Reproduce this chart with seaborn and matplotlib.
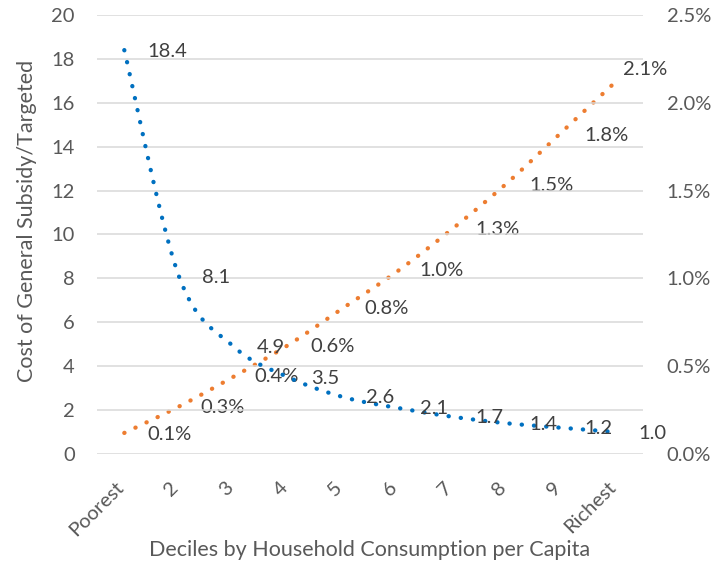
import numpy as np
import matplotlib
matplotlib.use("Agg")
import matplotlib.pyplot as plt
import matplotlib.transforms as mtransforms
from matplotlib.ticker import FuncFormatter, MultipleLocator
import seaborn as sns

# Deciles (x categories)
deciles = ["Poorest", "2", "3", "4", "5", "6", "7", "8", "9", "Richest"]
# Cost of general subsidy relative to targeted transfer (left axis)
cost_ratio = [18.4, 8.1, 4.9, 3.5, 2.6, 2.1, 1.7, 1.4, 1.2, 1.0]
# Share, in percent (right axis)
share_pct = [0.12, 0.27, 0.44, 0.62, 0.83, 1.04, 1.28, 1.54, 1.83, 2.12]

BLUE = "#0070C0"
ORANGE = "#ED7D31"
GRID = "#D9D9D9"
AXIS_TXT = "#595959"
LABEL_TXT = "#404040"
FONT = "Lato"
FS = 14.5

sns.set_theme(style="white")
plt.rcParams["font.family"] = [FONT, "DejaVu Sans"]


def smooth_curve(xv, yv, steps=40):
    """Smoothed line through the points using cubic Bezier segments
    (control points at 1/6 of the neighbour chord, as spreadsheet charts do)."""
    x = np.asarray(xv, float)
    y = np.asarray(yv, float)
    n = len(x)
    px, py = [], []
    t = np.linspace(0, 1, steps, endpoint=False)
    for i in range(n - 1):
        i0, i3 = max(i - 1, 0), min(i + 2, n - 1)
        p0 = np.array([x[i], y[i]])
        p3 = np.array([x[i + 1], y[i + 1]])
        c1 = p0 + (p3 - np.array([x[i0], y[i0]])) / 6.0
        c2 = p3 - (np.array([x[i3], y[i3]]) - p0) / 6.0
        b = ((1 - t) ** 3)[:, None] * p0 + (3 * (1 - t) ** 2 * t)[:, None] * c1 \
            + (3 * (1 - t) * t ** 2)[:, None] * c2 + (t ** 3)[:, None] * p3
        px.extend(b[:, 0]); py.extend(b[:, 1])
    px.append(x[-1]); py.append(y[-1])
    return np.array(px), np.array(py)


fig = plt.figure(figsize=(7.12, 5.67), dpi=100)
ax = fig.add_axes([97 / 712, 1 - 454 / 567, 546 / 712, 439 / 567])
ax2 = ax.twinx()

xpos = np.arange(len(deciles))
share = [v / 100 for v in share_pct]

dot_style = dict(linewidth=3.1, linestyle=(0, (0.05, 2.8)),
                 dash_capstyle="round", solid_capstyle="round")

bx, by = smooth_curve(xpos, cost_ratio)
sns.lineplot(x=bx, y=by, ax=ax, color=BLUE, sort=False, **dot_style, zorder=3)
ox, oy = smooth_curve(xpos, share)
sns.lineplot(x=ox, y=oy, ax=ax2, color=ORANGE, sort=False, **dot_style, zorder=3)

# Axes ranges and ticks
ax.set_xlim(-0.5, len(deciles) - 0.5)
ax.set_ylim(0, 20)
ax2.set_ylim(0, 0.025)
ax.yaxis.set_major_locator(MultipleLocator(2))
ax2.yaxis.set_major_locator(MultipleLocator(0.005))
ax2.yaxis.set_major_formatter(FuncFormatter(lambda v, p: f"{v * 100:.1f}%"))

ax.grid(axis="y", color=GRID, linewidth=1.1)
ax.grid(axis="x", visible=False)
ax2.grid(False)
for a in (ax, ax2):
    for s in a.spines.values():
        s.set_visible(False)
ax.set_axisbelow(True)

ax.set_xticks(xpos)
ax.set_xticklabels(deciles)
ax.tick_params(axis="x", length=0, pad=22, labelsize=FS, labelcolor=AXIS_TXT)
ax.tick_params(axis="y", length=0, pad=16, labelsize=FS, labelcolor=AXIS_TXT)
ax2.tick_params(axis="y", length=0, pad=17, labelsize=FS, labelcolor=AXIS_TXT)
shift = mtransforms.ScaledTranslation(-3 / 100, 0, fig.dpi_scale_trans)
for lab in ax.get_xticklabels():
    lab.set_rotation(45)
    lab.set_ha("right")
    lab.set_va("center")
    lab.set_rotation_mode("anchor")
    lab.set_transform(lab.get_transform() + shift)

ax.set_xlabel("Deciles by Household Consumption per Capita", fontsize=15.5, color=AXIS_TXT)
ax.xaxis.set_label_coords(0.5, -0.196)
ax.set_ylabel("Cost of General Subsidy/Targeted", fontsize=15.5, color=AXIS_TXT)
ax.yaxis.set_label_coords(-0.11, 0.53)
ax.set_zorder(ax2.get_zorder() + 1)
ax.patch.set_visible(False)

# Data labels, placed to the right of each point
px2pt = 72 / 100
for i, v in enumerate(cost_ratio):
    ax.annotate(f"{v:.1f}", (xpos[i], v), xytext=(23 * px2pt, -1 * px2pt),
                textcoords="offset points", ha="left", va="center",
                fontsize=FS, color=LABEL_TXT, zorder=5)
share_offsets = [(23, -2), (21, -1), (21, 0), (22, -1), (22, 0),
                 (22, 1), (23, 0), (23, -2), (23, -3), (7, 12)]
for i, v in enumerate(share):
    dx, dy = share_offsets[i]
    ax2.annotate(f"{v * 100:.1f}%", (xpos[i], v), xytext=(dx * px2pt, dy * px2pt),
                 textcoords="offset points", ha="left", va="center",
                 fontsize=FS, color=LABEL_TXT, zorder=5)

fig.savefig("out.png", dpi=100)
